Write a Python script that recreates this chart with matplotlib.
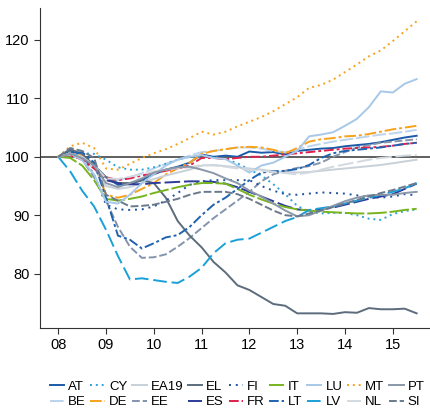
import numpy as np
import matplotlib.pyplot as plt

plt.rcParams['font.family'] = ['Liberation Sans', 'DejaVu Sans']

# quarterly index, 2008Q1 = 100
years = 2008 + np.arange(31) * 0.25

AT = [100, 101.0, 100.3, 98.5, 96.5, 95.2, 95.3, 96.0, 97.0, 97.8, 98.3, 99.0, 100.4, 100.0, 100.2, 100.0,
      100.9, 100.7, 100.8, 100.4, 101.0, 101.2, 101.4, 101.5, 101.8, 102.0, 102.2, 102.5, 102.9, 103.3, 103.6]
BE = [100, 100.6, 100.2, 98.5, 96.5, 96.0, 96.5, 97.2, 98.0, 98.8, 99.5, 100.2, 100.8, 101.0, 101.3, 101.6,
      101.6, 101.4, 101.0, 100.8, 101.2, 101.8, 102.2, 102.6, 102.9, 103.2, 103.5, 103.8, 104.0, 104.3, 104.6]
CY = [100, 100.4, 100.6, 100.5, 99.5, 98.2, 97.8, 97.8, 98.2, 98.8, 99.5, 100.0, 100.0, 100.0, 99.6, 98.9,
      97.8, 96.8, 95.3, 93.6, 91.6, 90.6, 90.3, 90.4, 90.4, 90.0, 89.4, 89.2, 90.2, 90.7, 91.0]
DE = [100, 100.5, 100.2, 98.8, 93.5, 93.0, 93.5, 94.5, 95.5, 97.0, 98.0, 99.0, 100.5, 101.0, 101.3, 101.6,
      101.7, 101.6, 101.2, 100.6, 101.5, 102.6, 103.0, 103.2, 103.5, 103.6, 103.9, 104.3, 104.7, 105.0, 105.3]
EA19 = [100, 100.3, 99.5, 98.0, 95.0, 94.5, 94.8, 95.5, 96.2, 96.8, 97.3, 97.8, 98.5, 98.6, 98.4, 98.2,
        98.0, 97.8, 97.5, 97.4, 97.3, 97.4, 97.6, 97.8, 98.0, 98.2, 98.4, 98.6, 98.9, 99.2, 99.5]
EE = [100, 100.8, 99.5, 96.5, 92.5, 88.0, 84.6, 82.7, 82.8, 83.3, 84.6, 86.1, 87.8, 89.5, 91.0, 92.5,
      94.0, 95.8, 97.0, 97.6, 98.1, 98.4, 99.0, 100.0, 100.8, 101.6, 102.0, 102.4, 102.6, 102.8, 103.0]
EL = [100, 101.3, 100.5, 98.5, 96.5, 95.5, 95.5, 96.0, 95.5, 93.0, 89.0, 86.5, 84.5, 82.0, 80.2, 78.0,
      77.2, 76.0, 74.8, 74.5, 73.2, 73.2, 73.2, 73.1, 73.4, 73.3, 74.1, 73.9, 73.9, 74.0, 73.2]
ES = [100, 100.5, 99.8, 98.2, 96.0, 95.5, 95.3, 95.3, 95.5, 95.6, 95.7, 95.8, 95.8, 95.7, 95.4, 94.8,
      94.0, 93.2, 92.4, 91.6, 91.0, 90.8, 91.0, 91.3, 91.8, 92.3, 92.8, 93.2, 93.6, 94.5, 95.4]
FI = [100, 100.8, 99.8, 97.0, 91.8, 91.0, 90.9, 91.0, 91.5, 92.5, 93.8, 95.2, 95.8, 96.0, 96.0, 96.0,
      96.0, 95.0, 94.2, 93.6, 93.5, 93.7, 93.9, 93.8, 93.7, 93.4, 93.1, 93.0, 93.2, 93.6, 93.4]
FR = [100, 100.3, 99.5, 98.0, 96.5, 96.0, 96.3, 96.8, 97.2, 97.6, 98.0, 98.5, 99.8, 99.8, 99.6, 99.8,
      100.0, 100.0, 100.2, 100.4, 100.6, 100.8, 101.0, 101.2, 101.4, 101.5, 101.6, 101.7, 101.9, 102.2, 102.4]
IT = [100, 99.8, 98.5, 96.0, 92.8, 92.5, 92.8, 93.2, 93.8, 94.3, 94.8, 95.2, 95.5, 95.5, 95.4, 94.5,
      93.5, 92.7, 92.0, 91.4, 91.0, 90.8, 90.6, 90.5, 90.4, 90.3, 90.3, 90.4, 90.6, 90.9, 91.1]
LT = [100, 100.5, 100.8, 99.0, 93.0, 86.5, 85.8, 84.3, 85.2, 86.2, 86.6, 88.0, 90.0, 91.8, 93.0, 94.5,
      96.0, 97.3, 97.5, 97.6, 97.9, 98.6, 99.8, 100.6, 101.0, 101.2, 101.4, 101.6, 101.9, 102.2, 102.4]
LU = [100, 100.6, 99.4, 97.0, 92.3, 92.0, 93.5, 95.5, 97.0, 98.5, 99.5, 100.0, 100.3, 99.8, 99.6, 98.5,
      97.3, 98.5, 99.0, 100.0, 101.0, 103.5, 103.8, 104.2, 105.3, 106.5, 108.5, 111.2, 111.0, 112.5, 113.3]
LV = [100, 97.5, 94.2, 91.5, 87.5, 83.0, 79.0, 79.2, 78.9, 78.6, 78.4, 79.5, 81.0, 83.5, 85.2, 85.8,
      86.0, 87.0, 88.0, 89.0, 89.7, 90.9, 91.2, 91.5, 92.0, 92.5, 93.0, 93.5, 94.0, 94.6, 95.5]
MT = [100, 101.8, 102.4, 101.5, 98.0, 97.8, 98.8, 99.8, 100.6, 101.3, 102.2, 103.2, 104.3, 103.8, 104.3, 105.2,
      106.0, 106.8, 107.8, 109.0, 110.2, 111.8, 112.3, 113.2, 114.5, 115.8, 117.2, 118.2, 119.8, 121.5, 123.2]
NL = [100, 100.5, 100.0, 98.5, 96.3, 96.2, 96.6, 97.0, 97.5, 97.8, 98.0, 98.2, 98.6, 98.5, 98.3, 98.0,
      97.8, 97.6, 97.4, 97.2, 97.0, 97.3, 97.8, 98.3, 98.7, 99.1, 99.5, 99.8, 100.0, 100.2, 100.3]
PT = [100, 100.5, 99.8, 98.5, 95.5, 94.8, 95.5, 96.3, 97.3, 97.8, 98.2, 98.3, 97.8, 97.2, 96.3, 95.5,
      94.2, 93.2, 92.0, 90.8, 89.8, 90.0, 90.8, 91.6, 92.4, 93.0, 93.4, 93.5, 93.5, 93.8, 94.0]
SI = [100, 101.5, 101.0, 99.8, 93.5, 92.5, 91.5, 91.6, 91.8, 92.3, 92.8, 93.5, 94.0, 94.0, 94.0, 93.6,
      92.8, 91.8, 90.8, 90.0, 89.8, 90.3, 90.8, 91.4, 92.0, 92.6, 93.2, 93.8, 94.3, 94.9, 95.5]

tick_years = [2008, 2009, 2010, 2011, 2012, 2013, 2014, 2015]
tick_labels = ['08', '09', '10', '11', '12', '13', '14', '15']

series = [
    ('AT', AT, '#1a5aa8', '-'),
    ('BE', BE, '#bcd4ec', (0, (7, 1.5))),
    ('CY', CY, '#2ba3dc', (0, (1, 2))),
    ('DE', DE, '#f8a21c', (0, (6, 1.5, 1.5, 1.5))),
    ('EA19', EA19, '#c8d0d8', '-'),
    ('EE', EE, '#8494ac', (0, (4, 1.5))),
    ('EL', EL, '#5c6c7c', '-'),
    ('ES', ES, '#2c3c98', (0, (8, 2))),
    ('FI', FI, '#2050a0', (0, (1, 2.5))),
    ('FR', FR, '#e0204c', (0, (5, 1.5, 1.5, 1.5))),
    ('IT', IT, '#78b41e', (0, (10, 1.5))),
    ('LT', LT, '#1f62b0', (0, (5, 1.5, 1.5, 1.5))),
    ('LU', LU, '#a8c8e8', '-'),
    ('LV', LV, '#1aa0d8', (0, (7, 2.5))),
    ('MT', MT, '#f8a21c', (0, (1, 2))),
    ('NL', NL, '#d2d9e0', (0, (8, 2))),
    ('PT', PT, '#8a98a8', '-'),
    ('SI', SI, '#6a7a8c', (0, (4, 1.5))),
]

fig = plt.figure(figsize=(4.31, 4.12), dpi=100)
ax = fig.add_axes([0.093, 0.204, 0.907, 0.777])

ax.axhline(100, color='#444444', lw=1.2, zorder=1)
for name, vals, col, ls in series:
    ax.plot(years, vals, color=col, linestyle=ls, lw=1.4, label=name, zorder=2)

ax.set_xlim(2007.62, 2015.8)
ax.set_ylim(70.7, 125.5)
ax.set_yticks([80, 90, 100, 110, 120])
ax.set_xticks(tick_years)
ax.set_xticklabels(tick_labels)
ax.tick_params(labelsize=10.5, color='#333333', length=4, direction='out')
for s in ['top', 'right']:
    ax.spines[s].set_visible(False)
for s in ['left', 'bottom']:
    ax.spines[s].set_color('#333333')

fig.legend(loc='lower center', bbox_to_anchor=(0.55, -0.01), ncol=9, frameon=False,
           fontsize=9.5, handlelength=1.1, handletextpad=0.3, columnspacing=0.35,
           labelspacing=0.25, borderaxespad=0.2)

fig.savefig('out.png', dpi=100)
